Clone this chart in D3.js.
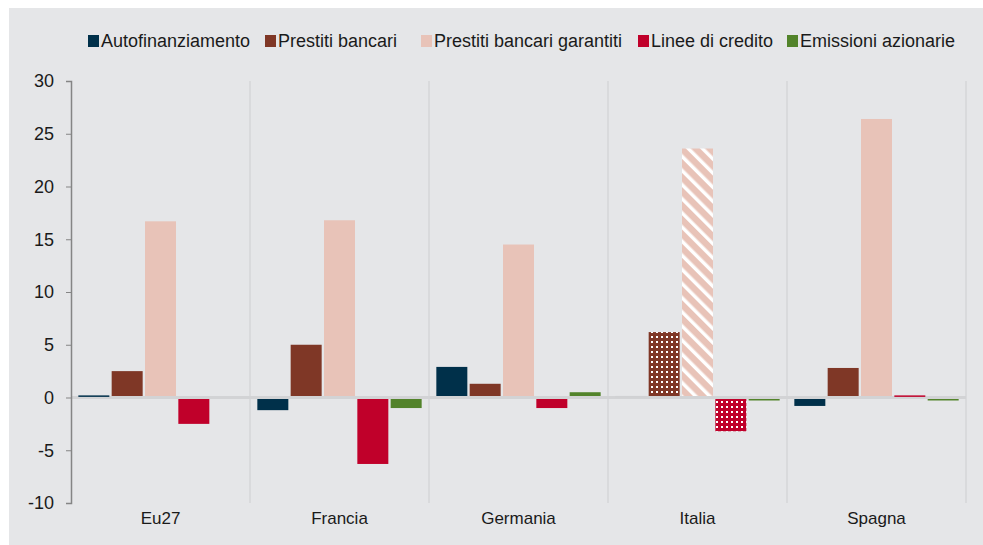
<!DOCTYPE html>
<html>
<head>
<meta charset="utf-8">
<script src="https://cdn.jsdelivr.net/npm/d3@7"></script>
<style>
  body { margin: 0; background: #fff; }
  svg { display: block; font-family: "Liberation Sans", Arial, sans-serif; }
</style>
</head>
<body>
<svg id="chart" width="983" height="545"></svg>
<script>
// data
const categories = ['Eu27', 'Francia', 'Germania', 'Italia', 'Spagna']
const series = ['Autofinanziamento', 'Prestiti bancari', 'Prestiti bancari garantiti', 'Linee di credito', 'Emissioni azionarie']
const autofinanziamento = [0.2, -1.2, 2.9, 0.15, -0.8]
const prestiti = [2.5, 5.0, 1.3, 6.2, 2.8]
const garantiti = [16.7, 16.8, 14.5, 23.6, 26.4]
const linee = [-2.5, -6.3, -1.0, -3.2, 0.2]
const emissioni = [0, -1.0, 0.5, -0.1, -0.1]
const yTicks = [-10, -5, 0, 5, 10, 15, 20, 25, 30]

const values = [autofinanziamento, prestiti, garantiti, linee, emissioni]
const colors = ['#00304a', '#7f3726', '#e8c3b8', '#c0002a', '#52832a']

const margin = { left: 71, right: 17, top: 81, bottom: 42 }
const W = 983, H = 545

const svg = d3.select('#chart')

svg.append('rect')
    .attr('x', 9).attr('y', 8)
    .attr('width', W - 9).attr('height', H - 8)
    .attr('fill', '#e5e6e8')

// patterns for Italia
const defs = svg.append('defs')
const dots = (id, color) => {
    const p = defs.append('pattern')
        .attr('id', id).attr('patternUnits', 'userSpaceOnUse')
        .attr('width', 5).attr('height', 5)
    p.append('rect').attr('width', 5).attr('height', 5).attr('fill', color)
    p.append('rect').attr('x', 1).attr('y', 1).attr('width', 2).attr('height', 2).attr('fill', '#fff')
}
dots('dotsBrown', colors[1])
dots('dotsRed', colors[3])
const stripes = defs.append('pattern')
    .attr('id', 'stripesPink').attr('patternUnits', 'userSpaceOnUse')
    .attr('width', 10).attr('height', 10)
    .attr('patternTransform', 'rotate(-45)')
stripes.append('rect').attr('width', 10).attr('height', 10).attr('fill', colors[2])
stripes.append('rect').attr('width', 3.5).attr('height', 10).attr('fill', '#fff')

const x0 = d3.scaleBand()
    .domain(categories)
    .range([margin.left, W - margin.right])

const x1 = d3.scaleBand()
    .domain(series)
    .range([0, x0.bandwidth()])
    .paddingInner(0.07)
    .paddingOuter(0.22)

const y = d3.scaleLinear()
    .domain([-10, 30])
    .range([H - margin.bottom, margin.top])

// category dividers
svg.append('g')
    .selectAll('line')
    .data(categories)
    .join('line')
    .attr('x1', d => x0(d) + x0.step())
    .attr('x2', d => x0(d) + x0.step())
    .attr('y1', y(30))
    .attr('y2', y(-10))
    .attr('stroke', '#d5d6d8')
    .attr('stroke-width', 1.5)

// zero line
svg.append('line')
    .attr('x1', margin.left).attr('x2', W - margin.right)
    .attr('y1', y(0)).attr('y2', y(0))
    .attr('stroke', '#d2d3d5')
    .attr('stroke-width', 3)

const fillFor = (cat, si) => {
    if (cat === 'Italia') {
        if (si === 0) return '#d0d1d3'
        if (si === 1) return 'url(#dotsBrown)'
        if (si === 2) return 'url(#stripesPink)'
        if (si === 3) return 'url(#dotsRed)'
    }
    return colors[si]
}

const bars = []
categories.forEach((c, ci) => {
    series.forEach((s, si) => bars.push({ c, s, si, v: values[si][ci] }))
})

svg.append('g')
    .selectAll('rect')
    .data(bars.filter(d => d.v !== 0))
    .join('rect')
    .attr('x', d => x0(d.c) + x1(d.s))
    .attr('width', x1.bandwidth())
    .attr('y', d => y(Math.max(0, d.v)) + (d.v > 0 ? 0 : 1.5))
    .attr('height', d => Math.max(1.5, Math.abs(y(d.v) - y(0)) - 1.5))
    .attr('fill', d => fillFor(d.c, d.si))

// y axis
const yAxis = d3.axisLeft(y).tickValues(yTicks).tickSize(5).tickPadding(12).tickFormat(d => String(d))
const gy = svg.append('g')
    .attr('transform', `translate(${margin.left},0)`)
    .call(yAxis)
gy.select('.domain').attr('stroke', '#858585').attr('stroke-width', 1.5)
gy.selectAll('.tick line').attr('stroke', '#858585')
gy.selectAll('.tick text')
    .attr('font-size', 18)
    .attr('fill', '#1a1a1a')
    .attr('font-family', '"Liberation Sans", Arial, sans-serif')

// category labels
svg.append('g')
    .selectAll('text')
    .data(categories)
    .join('text')
    .attr('x', d => x0(d) + x0.bandwidth() / 2)
    .attr('y', 524)
    .attr('text-anchor', 'middle')
    .attr('font-size', 17)
    .attr('fill', '#1a1a1a')
    .text(d => d)

// legend
const legendX = [88, 265, 421, 638, 787]
const lg = svg.append('g')
series.forEach((s, i) => {
    lg.append('rect')
        .attr('x', legendX[i]).attr('y', 35)
        .attr('width', 11).attr('height', 12)
        .attr('fill', colors[i])
    lg.append('text')
        .attr('x', legendX[i] + 13).attr('y', 47)
        .attr('font-size', 18)
        .attr('fill', '#1a1a1a')
        .text(s)
})
</script>
</body>
</html>
